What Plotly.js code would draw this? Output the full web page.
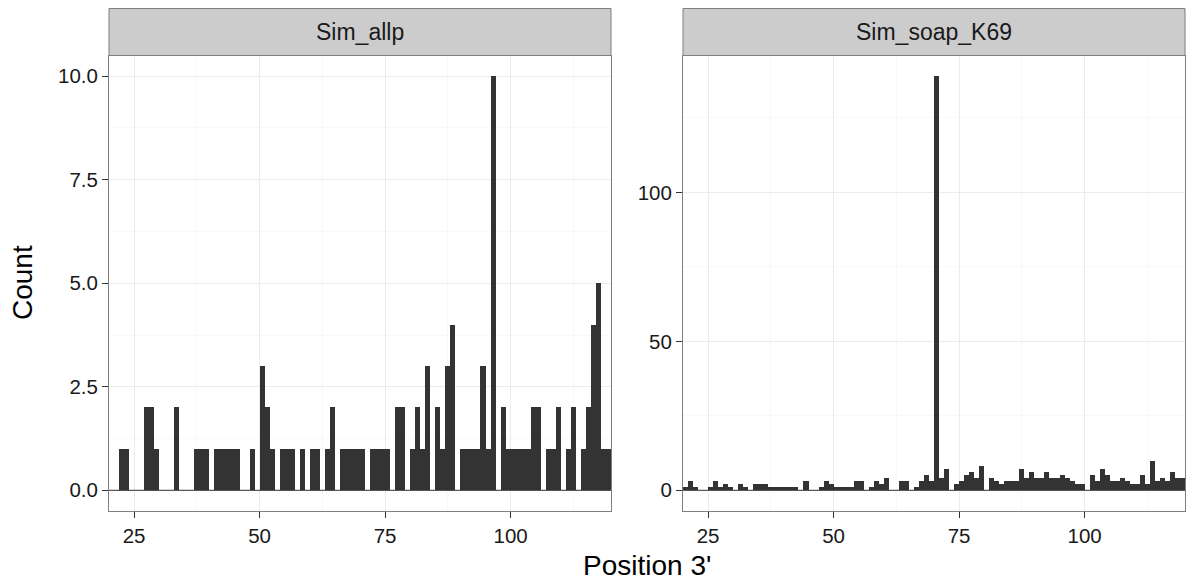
<!DOCTYPE html>
<html><head><meta charset="utf-8">
<script src="https://cdn.plot.ly/plotly-3.0.1.min.js"></script>
<style>html,body{margin:0;padding:0;background:#fff}#chart{width:1192px;height:584px}</style>
</head><body><div id="chart"></div>
<script>
// Facet titles
const panelNames = ['Sim_allp', 'Sim_soap_K69'];
const xTitle = "Position 3'";
const yTitle = 'Count';

// Sim_allp: bin start position and count (non-empty bins)
const allpPos = [22,23,27,28,29,33,37,38,39,41,42,43,44,45,48,50,51,52,54,55,56,58,60,61,63,64,66,67,68,69,70,72,73,74,75,77,78,80,81,82,83,85,86,87,88,90,91,92,93,94,95,96,98,99,100,101,102,103,104,105,107,108,109,111,112,114,115,116,117,118,119];
const allpCount = [1,1,2,2,1,2,1,1,1,1,1,1,1,1,1,3,2,1,1,1,1,1,1,1,1,2,1,1,1,1,1,1,1,1,1,2,2,1,2,1,3,2,1,3,4,1,1,1,1,3,1,10,2,1,1,1,1,1,2,2,1,1,2,1,2,1,2,4,5,1,1];

// Sim_soap_K69: bin start position and count
const soapPos = [20,21,22,23,24,25,26,27,28,29,30,31,32,33,34,35,36,37,38,39,40,41,42,43,44,45,46,47,48,49,50,51,52,53,54,55,56,57,58,59,60,61,62,63,64,65,66,67,68,69,70,71,72,73,74,75,76,77,78,79,80,81,82,83,84,85,86,87,88,89,90,91,92,93,94,95,96,97,98,99,100,101,102,103,104,105,106,107,108,109,110,111,112,113,114,115,116,117,118,119];
const soapCount = [1,3,1,0,0,1,3,1,2,1,0,2,1,0,2,2,2,1,1,1,1,1,1,0,3,0,0,1,3,2,1,1,1,1,3,3,0,1,3,2,4,0,0,3,3,0,1,3,5,3,139,4,7,0,2,3,5,6,4,8,0,4,3,2,3,3,3,7,4,6,4,4,6,4,4,5,4,3,2,2,0,5,3,7,5,3,3,4,3,2,2,5,2,10,3,4,3,6,4,4];

const W = 1192, H = 584;
const font = 'Liberation Sans, Arial, Helvetica, sans-serif';
const panelTop = 55.5, panelBottom = 511, stripTop = 8.5;
const yDom = [(H - panelBottom) / H, (H - panelTop) / H];

const barStyle = {type: 'bar', width: 1, offset: 0, marker: {color: '#333333', line: {width: 0}}, hoverinfo: 'x+y', showlegend: false};
const data = [
  Object.assign({}, barStyle, {x: allpPos, y: allpCount, xaxis: 'x', yaxis: 'y'}),
  Object.assign({}, barStyle, {x: soapPos, y: soapCount, xaxis: 'x2', yaxis: 'y2'})
];

function axisBase() {
  return {
    showline: true, mirror: true, linecolor: '#7F7F7F', linewidth: 1,
    ticks: 'outside', ticklen: 6, tickwidth: 1.1, tickcolor: '#333333',
    tickfont: {family: font, size: 20.5, color: '#1A1A1A'},
    showgrid: true, gridcolor: '#EBEBEB', gridwidth: 1.1,
    zeroline: false, fixedrange: true,
    minor: {showgrid: true, gridcolor: '#F4F4F4', gridwidth: 0.6}
  };
}
const xa = Object.assign(axisBase(), {domain: [109 / W, 611 / W], range: [20, 120], tick0: 0, dtick: 25, anchor: 'y'});
xa.minor.dtick = 12.5; xa.minor.tick0 = 0;
const xa2 = Object.assign(axisBase(), {domain: [683 / W, 1185 / W], range: [20, 120], tick0: 0, dtick: 25, anchor: 'y2'});
xa2.minor.dtick = 12.5; xa2.minor.tick0 = 0;
const ya = Object.assign(axisBase(), {domain: yDom, range: [-0.5, 10.5], tick0: 0, dtick: 2.5, tickformat: '.1f', anchor: 'x'});
ya.minor.dtick = 1.25; ya.minor.tick0 = 0;
const ya2 = Object.assign(axisBase(), {domain: yDom, range: [-6.95, 145.95], tick0: 0, dtick: 50, anchor: 'x2'});
ya2.minor.dtick = 25; ya2.minor.tick0 = 0;

const shapes = [];
const annotations = [];
['x', 'x2'].forEach((ax, i) => {
  shapes.push({type: 'rect', xref: ax + ' domain', yref: 'paper', x0: 0, x1: 1, y0: yDom[1], y1: (H - stripTop) / H,
    fillcolor: '#CCCCCC', line: {color: '#7F7F7F', width: 1}, layer: 'above'});
  shapes.push({type: 'line', xref: ax + ' domain', yref: i === 0 ? 'y' : 'y2', x0: 0, x1: 1, y0: 0, y1: 0,
    line: {color: '#333333', width: 1}, layer: 'above'});
  annotations.push({xref: ax + ' domain', yref: 'paper', x: 0.5, y: (yDom[1] + (H - stripTop) / H) / 2,
    text: panelNames[i], showarrow: false, xanchor: 'center', yanchor: 'middle',
    font: {family: font, size: 23, color: '#1A1A1A'}});
});
annotations.push({xref: 'paper', yref: 'paper', x: 647 / W, y: (H - 565) / H, text: xTitle, showarrow: false,
  xanchor: 'center', yanchor: 'middle', font: {family: font, size: 28, color: '#000000'}});
annotations.push({xref: 'paper', yref: 'paper', x: 22 / W, y: (H - 283) / H, text: yTitle, showarrow: false, textangle: -90,
  xanchor: 'center', yanchor: 'middle', font: {family: font, size: 28, color: '#000000'}});

const layout = {
  width: W, height: H, margin: {l: 0, r: 0, t: 0, b: 0},
  paper_bgcolor: '#FFFFFF', plot_bgcolor: '#FFFFFF',
  xaxis: xa, xaxis2: xa2, yaxis: ya, yaxis2: ya2,
  bargap: 0, shapes: shapes, annotations: annotations, showlegend: false,
  font: {family: font}
};
Plotly.newPlot('chart', data, layout, {displayModeBar: false, staticPlot: true});
</script>
</body></html>
